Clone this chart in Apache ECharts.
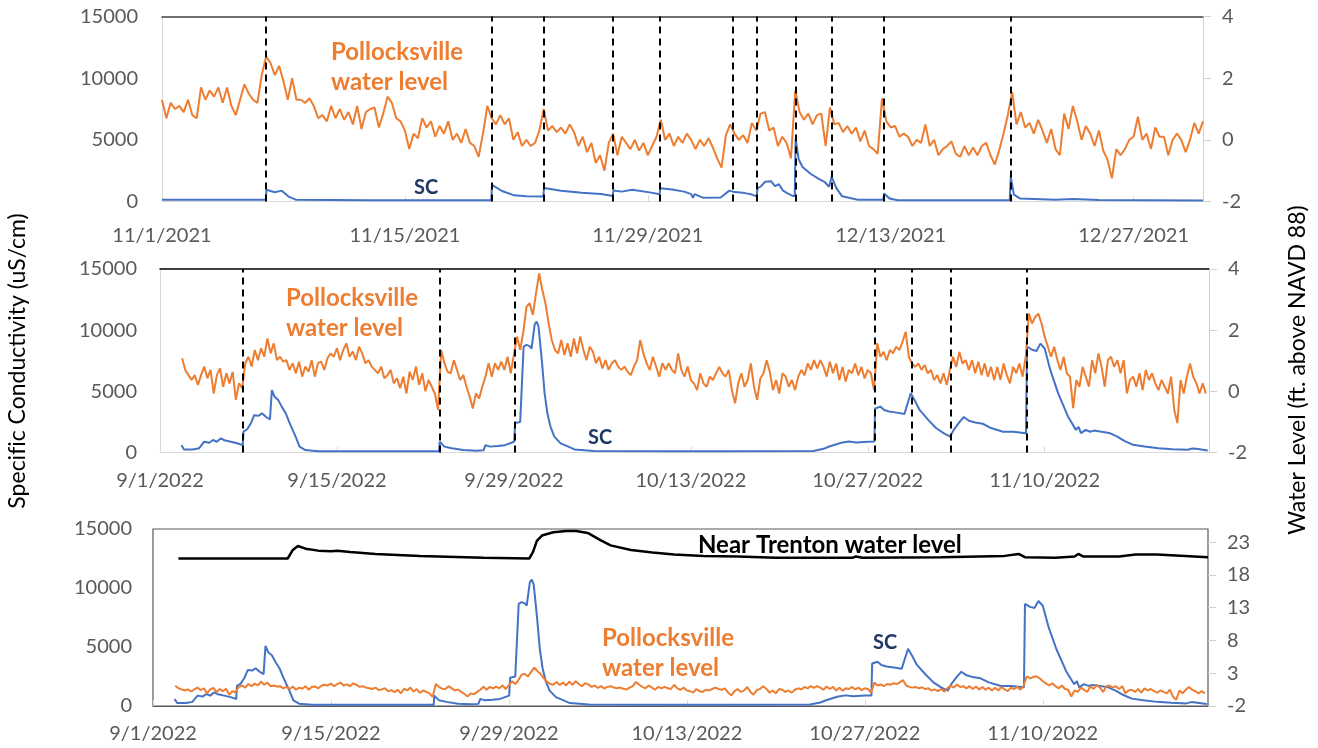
<!DOCTYPE html>
<html>
<head>
<meta charset="utf-8">
<script src="https://cdn.jsdelivr.net/npm/echarts@6/dist/echarts.min.js"></script>
<style>
  html, body { margin: 0; padding: 0; background: #ffffff; }
  #chart { width: 1318px; height: 748px; }
</style>
</head>
<body>
<div id="chart"></div>
<script>
// ---------- Nov-Dec 2021 ----------
// Pollocksville water level (ft above NAVD 88), every 6 h from 11/1/2021 00:00 (day 0)
const wl2021Start = 0;
const wlStep = 0.25;
const wl2021 = [
  1.3, 0.7, 1.2, 1.0,   1.1, 0.9, 1.3, 0.8,   0.7, 1.7, 1.3, 1.6,   1.4, 1.7, 1.2, 1.7,
  1.1, 0.8, 1.3, 1.8,   1.5, 1.3, 1.2, 2.1,   2.7, 2.5, 2.1, 2.4,   1.9, 1.3, 2.0, 1.3,
  1.3, 1.2, 1.35, 1.1,  0.7, 0.8, 0.6, 1.1,   0.7, 1.0, 0.65, 0.9,  0.5, 1.1, 0.35, 0.9,
  1.0, 1.05, 0.4, 0.85, 1.4, 1.2, 0.7, 0.6,   0.3, -0.3, 0.2, 0.05, 0.7, 0.4, 0.6, 0.1,
  0.45, 0.2, 0.6, 0.0,  0.2, -0.1, 0.35, -0.1, -0.2, -0.55, 0.2, 1.1, 0.7, 0.5, 0.8, 0.5,
  0.7, 0.0, 0.25, -0.2, 0.0, -0.2, -0.1, 0.3, 1.0, 0.3, 0.45, 0.25, 0.4, 0.2, 0.5, 0.25,
  -0.2, 0.1, -0.4, -0.1, -0.75, -0.5, -1.0, -0.1, 0.2, -0.5, 0.1, -0.1, -0.3, 0.0, -0.35, -0.1,
  -0.5, -0.2, 0.1, 0.65, 0.0, 0.2, -0.2, 0.1, -0.1, 0.2, 0.0, -0.3,  0.0, -0.2, 0.05, -0.25,
  -0.6, -0.9, 0.15, 0.5, 0.2, 0.0, 0.15, -0.1, 0.55, 0.3, 0.85, 0.9,  0.3, 0.4, -0.2, 0.1,
  -0.1, -0.6, 1.6, 0.9, 0.65, 0.85, 0.5, 0.8, 0.85, -0.2, 1.05, 0.5,  0.55, 0.25, 0.45, 0.2,
  0.4, -0.05, 0.3, -0.2, -0.3, -0.45, 1.35, 0.6, 0.4, 0.45, 0.1, 0.2,  0.1, -0.2, 0.0, -0.1,
  0.5, -0.2, 0.0, -0.5, -0.3, -0.2, -0.05, -0.45, -0.55, -0.2, -0.5, -0.25, -0.5, -0.2, -0.1, -0.5,
  -0.8, -0.35, 0.2, 0.8, 1.55, 0.5, 0.9, 0.4, 0.55, 0.2, 0.65, 0.3,  -0.1, 0.35, -0.3, -0.5,
  0.85, 0.35, 1.1, 0.6, 0.0, 0.45, 0.2, -0.2, 0.3, -0.35, -0.65, -1.25, -0.3, -0.5, -0.3, 0.0,
  0.1, 0.75, 0.0, 0.2, -0.3, 0.4, 0.1, 0.1,  -0.5, 0.0, 0.2, 0.0,  -0.4, 0.0, 0.55, 0.2,
  0.6
];
// Specific conductivity (uS/cm): [day since 11/1/2021, value]
const sc2021 = [
  [0,150],[5.98,150],[6.02,950],[6.5,750],[6.9,880],[7.3,400],[7.7,150],[12,100],[18.98,100],
  [19.02,1350],[19.6,850],[20.3,500],[21,420],[21.98,400],[22.02,1100],[23,880],[24.2,700],
  [25.3,600],[25.98,450],[26.02,900],[26.5,800],[27.1,950],[28.2,720],[28.68,580],[28.72,1080],
  [29.4,980],[30.1,800],[30.5,600],[30.6,300],[30.7,600],[31.2,300],[32.2,330],[32.7,880],
  [32.9,800],[33.6,680],[34.0,560],[34.28,420],[34.32,1080],[34.5,1200],[34.76,1600],[35.1,1650],
  [35.33,1250],[35.56,1400],[35.78,900],[36.0,700],[36.35,450],[36.47,450],[36.52,5100],
  [36.7,3400],[36.92,2800],[37.38,2250],[37.83,1850],[38.18,1600],[38.45,1200],[38.6,2000],
  [38.86,1100],[39.2,420],[40.1,150],[41.58,150],[41.62,650],[41.93,250],[42.4,100],[48.86,100],
  [48.92,2000],[49.1,550],[49.45,250],[51.5,150],[52.5,200],[54,120],[60,80]
];
// Event times (day since 11/1/2021)
const events2021 = [6.0, 19.0, 22.0, 26.0, 28.7, 32.9, 34.3, 36.5, 38.6, 41.6, 48.9];
const xLabels2021 = ['11/1/2021', '11/15/2021', '11/29/2021', '12/13/2021', '12/27/2021'];

// ---------- Sep-Nov 2022 ----------
// Pollocksville water level (ft above NAVD 88), every 6 h from 9/2/2022 18:00 (day 1.75 since 9/1/2022)
const wl2022Start = 1.75;
const wl2022 = [
  1.08, 0.70, 0.53, 0.37, 0.53, 0.21, 0.53, 0.81, 0.43, 0.70, -0.07, 0.53, 0.75, 0.15, 0.59, 0.26, 0.64, -0.28, 0.26, 0.10,
  0.92, 1.13, 0.81, 1.35, 1.02, 1.41, 1.13, 1.73, 1.24, 1.57, 1.02, 1.13, 0.97, 1.02, 0.70, 0.92, 0.59, 0.97, 0.48, 0.81,
  0.64, 1.02, 0.48, 0.92, 0.97, 0.70, 1.08, 1.24, 1.13, 1.41, 1.02, 1.35, 1.57, 1.13, 1.30, 1.02, 1.46, 1.24, 0.92, 1.02,
  0.81, 0.70, 0.59, 0.81, 0.43, 0.53, 0.70, 0.26, 0.43, 0.10, 0.48, -0.07, 0.64, 0.37, 0.81, 0.21, 0.59, 0.0, 0.37, 0.15,
  -0.07, -0.61,
  1.35, 0.92, 0.64, 0.59, 1.02, 0.70, 0.37, 0.53, 0.15, -0.17, -0.56, -0.07, -0.23, 0.15, 0.48, 0.92, 0.48, 0.92, 0.70, 0.97,
  0.70, 1.13, 0.59, 1.19,
  1.79, 1.35, 1.95, 2.77, 2.88, 2.50, 3.20, 3.86, 3.31, 2.88, 2.22, 1.68, 1.35, 1.24, 1.68, 1.19, 1.57, 1.13, 1.73, 1.24,
  1.79, 1.35, 1.02, 1.46, 1.30, 0.92, 1.13, 0.75, 1.02, 0.70, 0.92, 1.02, 0.81, 0.70, 0.81, 0.64, 0.53, 0.81, 1.02, 1.68,
  1.24, 0.92, 0.70, 1.13, 0.81, 0.48, 0.92, 0.70, 0.92, 0.70, 0.59, 1.24, 0.70, 0.48, 0.81, 0.37, 0.26, 0.04, 0.59, 0.26,
  0.15, 0.48, 0.37, 0.59,
  0.80, 0.59, 0.48, 0.70, 0.04, -0.39, 0.26, 0.59, 0.15, 0.37, 0.91, 0.15, -0.28, 0.42, 0.59, 1.02, 0.64, 0.04, 0.37, -0.07,
  0.59, 0.48, 0.15, 0.37, 0.04, 0.48, 0.70, 0.53, 0.91, 0.70, 1.02, 0.75, 1.02, 0.80, 0.48, 0.97, 0.59, 0.91, 0.37, 0.80,
  0.32, 0.70, 0.59, 0.91, 0.53, 0.80, 0.42, 0.70, 0.59, 0.04,
  1.57, 1.13, 1.29, 1.02, 1.35, 1.24, 1.46, 1.35, 1.62, 1.95, 1.13, 0.91,
  0.80, 0.91, 0.70, 0.86, 0.59, 0.70, 0.37, 0.53, 0.26, 0.59, 0.21, 0.70,
  1.13, 0.80, 1.29, 0.91, 1.02, 0.70, 1.02, 0.59, 0.97, 0.53, 0.91, 0.48, 0.80, 0.37, 0.80, 0.37, 0.91, 0.53, 0.26, 0.80,
  0.59, 0.91, 0.48, 1.13,
  2.54, 2.22, 2.43, 2.54, 2.22, 1.78, 1.46, 1.13, 1.46, 1.02, 0.70, 1.13, 0.59, 0.48, -0.55, 0.37, 0.15, 0.80, 0.48, 0.15,
  1.02, 0.59, 1.24, 0.80, 0.15, 1.02, 1.13, 0.80, 1.02, 0.59, 1.02, -0.07, 0.37, 0.48, 0.15, 0.59, 0.04, 0.70, 0.37, 0.59,
  0.26, 0.04, 0.37, 0.15, -0.07, 0.48, -0.61, -1.04, 0.37, -0.07, 0.48, 0.91, 0.48, 0.26, -0.07, 0.26, -0.07
];
// Specific conductivity (uS/cm): [day since 9/1/2022, value]
const sc2022 = [
  [1.7,600],[1.9,250],[2.6,250],[3.1,350],[3.5,880],[3.9,800],[4.2,1020],[4.5,880],[4.8,1150],[5.1,1000],
  [5.6,880],[6.1,750],[6.55,600],[6.6,1700],[6.9,1900],[7.2,2400],[7.45,3050],[7.8,3000],[8.07,3200],
  [8.4,2900],[8.7,2700],[8.85,5100],[9.07,4550],[9.35,4300],[9.63,3750],[9.95,3200],[10.26,2400],
  [10.73,1300],[11.04,480],[11.5,200],[12.5,100],[22.08,100],[22.13,880],[22.5,480],[23.08,350],[24,200],
  [25,150],[25.6,180],[25.75,600],[26.1,480],[26.7,530],[27.3,600],[28.02,880],[28.1,2400],[28.5,2500],
  [28.77,8650],[29.0,8800],[29.25,8700],[29.4,8500],[29.65,10500],[29.8,10700],[29.95,10300],[30.21,7550],
  [30.43,4850],[30.65,3200],[30.9,2100],[31.2,1300],[31.7,750],[32.3,480],[32.8,250],[34.3,120],[40,100],
  [45,100],[51.7,130],[52.5,300],[52.95,490],[53.9,800],[54.5,900],[55.1,820],[56.0,880],[56.52,900],
  [56.58,3600],[57.0,3750],[57.3,3480],[57.7,3350],[58.3,3260],[58.9,3150],[59.4,4850],[59.7,4300],
  [60.1,3480],[60.8,2650],[61.4,2000],[62.0,1580],[62.52,1300],[62.8,1850],[63.3,2550],[63.6,2900],
  [64.0,2600],[64.5,2450],[65.1,2350],[65.75,2000],[66.7,1700],[67.5,1700],[68.52,1580],[68.6,8650],
  [69.0,8400],[69.35,8300],[69.66,8900],[70.0,8500],[70.44,6750],[71.06,4850],[71.84,2950],[72.47,1850],
  [72.68,2100],[72.87,1580],[73.25,1850],[73.6,1700],[73.9,1790],[74.5,1700],[75.1,1600],[75.74,1300],
  [76.3,950],[77.0,625],[77.9,490],[79,350],[80.1,270],[81.3,220],[81.7,330],[82.0,300],[82.9,160]
];
// Near Trenton water level (ft above NAVD 88): [day since 9/1/2022, value]
const trenton2022 = [
  [2.0,20.5],[6,20.5],[10.6,20.5],[11.0,21.8],[11.4,22.4],[12.0,22.0],[13.0,21.7],[14.0,21.6],[14.5,21.7],
  [15.5,21.5],[17.5,21.2],[21,20.9],[26,20.6],[29.6,20.5],[29.9,21.5],[30.2,23.2],[30.6,24.0],[31.5,24.5],
  [32.5,24.7],[33.3,24.7],[34.2,24.4],[35.2,23.3],[36.0,22.5],[37.6,21.8],[39.3,21.4],[41,21.1],[43.3,20.9],
  [46,20.8],[49,20.6],[55,20.6],[55.3,20.8],[55.8,20.6],[62,20.7],[67,20.9],[68.1,21.2],[68.6,20.7],
  [71,20.6],[72.5,20.8],[72.8,21.2],[73.2,20.8],[76,20.8],[77.3,21.1],[79,21.1],[83,20.7]
];
// Event times (day since 9/1/2022)
const events2022 = [6.57, 22.1, 28.05, 56.55, 59.45, 62.55, 68.55];
const xLabels2022 = ['9/1/2022', '9/15/2022', '9/29/2022', '10/13/2022', '10/27/2022', '11/10/2022'];

// ---------- styling ----------
const FONT = 'Lato, "Open Sans", sans-serif';
const ORANGE = '#ED7D31';
const BLUE = '#4472C4';
const NAVY = '#1F3864';
const LABEL_GRAY = '#595959';

const toSeries = (start, values) => values.map((v, i) => [start + i * wlStep, v]);

function dateFormatter(labels) {
  return v => {
    const k = Math.round(v / 14);
    return Math.abs(v - k * 14) < 1e-6 && labels[k] ? labels[k] : '';
  };
}

function bottomAxis(gridIndex, max, labels, margin, lineColor) {
  return {
    type: 'value', gridIndex, min: 0, max, interval: 14, position: 'bottom',
    axisLine: { show: true, onZero: false, lineStyle: { color: lineColor, width: 1 } },
    axisTick: { show: true, inside: true, length: 6, lineStyle: { color: '#d9d9d9' } },
    axisLabel: { formatter: dateFormatter(labels), showMaxLabel: false, margin,
                 color: LABEL_GRAY, fontSize: 20, fontFamily: FONT },
    splitLine: { show: false }
  };
}
function topFrame(gridIndex, max, color) {
  return {
    type: 'value', gridIndex, min: 0, max, position: 'top',
    axisLine: { show: true, onZero: false, lineStyle: { color, width: 1.5 } },
    axisTick: { show: false }, axisLabel: { show: false }, splitLine: { show: false }
  };
}
function leftAxis(gridIndex, margin, showLine) {
  return {
    type: 'value', gridIndex, min: 0, max: 15000, interval: 5000, position: 'left',
    axisLine: { show: showLine, onZero: false, lineStyle: { color: '#d9d9d9' } },
    axisTick: { show: false },
    axisLabel: { margin, formatter: v => String(v), color: LABEL_GRAY, fontSize: 20, fontFamily: FONT },
    splitLine: { show: false }
  };
}
function rightAxis(gridIndex, min, max, interval, showLine) {
  return {
    type: 'value', gridIndex, min, max, interval, position: 'right',
    axisLine: { show: showLine, onZero: false, lineStyle: { color: '#d0d0d0' } },
    axisTick: { show: true, length: 8, lineStyle: { color: '#d0d0d0' } },
    axisLabel: { margin: 19, color: LABEL_GRAY, fontSize: 20, fontFamily: FONT },
    splitLine: { show: false }
  };
}
function line(name, xAxisIndex, yAxisIndex, data, color, width) {
  return {
    name, type: 'line', xAxisIndex, yAxisIndex, data, showSymbol: false, symbol: 'none',
    lineStyle: { color, width }, itemStyle: { color }, silent: true, animation: false
  };
}
function eventLines(days) {
  return {
    silent: true, symbol: ['none', 'none'], label: { show: false },
    lineStyle: { color: '#000000', type: [7, 5], width: 2 },
    emphasis: { disabled: true },
    data: days.map(d => ({ xAxis: d }))
  };
}
function note(text, x, y, color, size) {
  return {
    type: 'text', x, y,
    style: { text, fill: color, font: `bold ${size}px ${FONT}`, verticalAlign: 'middle' }
  };
}

const chart = echarts.init(document.getElementById('chart'), null, { renderer: 'canvas' });

const scTop = line('SC', 0, 0, sc2021, BLUE, 2);
scTop.markLine = eventLines(events2021);
const scMid = line('SC', 2, 2, sc2022, BLUE, 2);
scMid.markLine = eventLines(events2022);

chart.setOption({
  animation: false,
  backgroundColor: '#ffffff',
  grid: [
    { left: 162, right: 115, top: 16.5, height: 185 },
    { left: 160, right: 109, top: 269, height: 183.5 },
    { left: 153, right: 110, top: 529, height: 177, show: true, borderColor: '#595959', borderWidth: 1.2 }
  ],
  xAxis: [
    bottomAxis(0, 60, xLabels2021, 24, '#d9d9d9'),
    topFrame(0, 60, '#404040'),
    bottomAxis(1, 83, xLabels2022, 18, '#d9d9d9'),
    topFrame(1, 83, '#000000'),
    bottomAxis(2, 83, xLabels2022, 18, '#595959')
  ],
  yAxis: [
    leftAxis(0, 24, true),
    rightAxis(0, -2, 4, 2, true),
    leftAxis(1, 23, true),
    rightAxis(1, -2, 4, 2, true),
    leftAxis(2, 21, false),
    rightAxis(2, -2, 25, 5, false)
  ],
  series: [
    scTop,
    line('Pollocksville water level', 0, 1, toSeries(wl2021Start, wl2021), ORANGE, 2),
    scMid,
    line('Pollocksville water level', 2, 3, toSeries(wl2022Start, wl2022), ORANGE, 2),
    line('SC', 4, 4, sc2022, BLUE, 2),
    line('Pollocksville water level', 4, 5, toSeries(wl2022Start, wl2022), ORANGE, 2),
    line('Near Trenton water level', 4, 5, trenton2022, '#000000', 2.5)
  ],
  graphic: [
    {
      type: 'text', x: 18, y: 361, rotation: Math.PI / 2,
      style: { text: 'Specif\u200Cic Conductivity (uS/cm)', fill: '#000000', font: `23px ${FONT}`,
               align: 'center', verticalAlign: 'middle' }
    },
    {
      type: 'text', x: 1298, y: 370, rotation: Math.PI / 2,
      style: { text: 'Water Level (ft. above NAVD 88)', fill: '#000000', font: `23px ${FONT}`,
               align: 'center', verticalAlign: 'middle' }
    },
    note('Pollocksville', 331, 52, ORANGE, 24),
    note('water level', 331, 82, ORANGE, 24),
    note('SC', 414, 188, NAVY, 20),
    note('Pollocksville', 286, 298, ORANGE, 24),
    note('water level', 286, 328, ORANGE, 24),
    note('SC', 588, 438, NAVY, 20),
    note('Near Trenton water level', 698, 545, '#000000', 24),
    note('Pollocksville', 602, 638, ORANGE, 24),
    note('water level', 602, 668, ORANGE, 24),
    note('SC', 873, 643, NAVY, 20)
  ]
});
</script>
</body>
</html>
